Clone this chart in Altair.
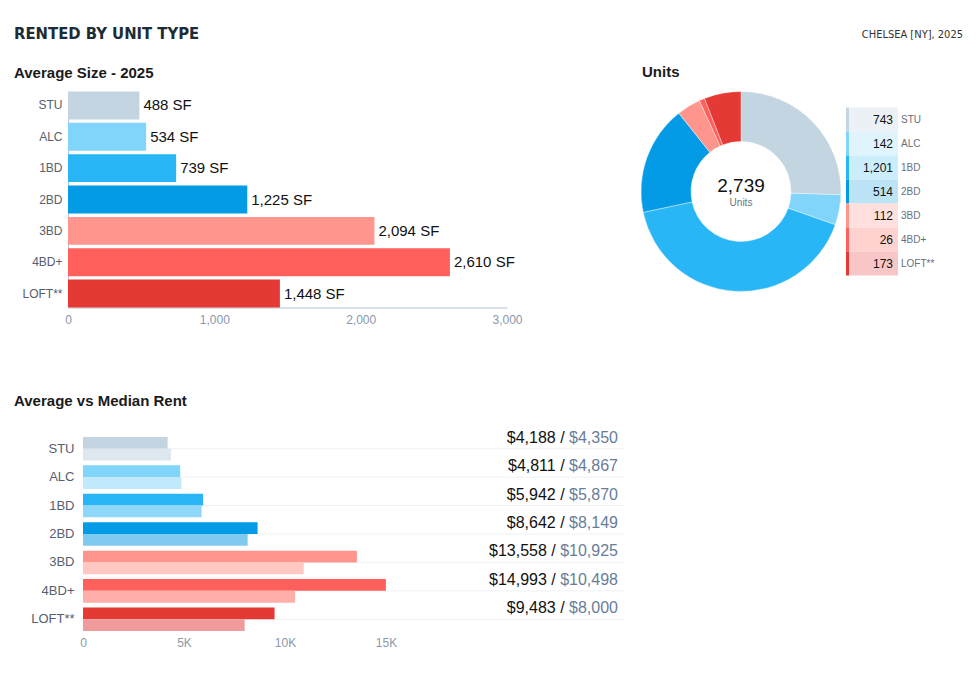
import altair as alt
import pandas as pd

# ---------------- data ----------------
units = ["STU", "ALC", "1BD", "2BD", "3BD", "4BD+", "LOFT**"]
avg_size = [488, 534, 739, 1225, 2094, 2610, 1448]
unit_count = [743, 142, 1201, 514, 112, 26, 173]
total_units = 2739
avg_rent = [4188, 4811, 5942, 8642, 13558, 14993, 9483]
median_rent = [4350, 4867, 5870, 8149, 10925, 10498, 8000]
size_ticks = [0, 1000, 2000, 3000]
rent_ticks = [0, 5000, 10000, 15000]
header_left = "RENTED BY UNIT TYPE"
header_right = "CHELSEA [NY], 2025"

# ---------------- styles ----------------
main_colors = ["#c3d5e0", "#81d4fa", "#29b6f6", "#039be5", "#ff958c", "#ff605b", "#e53935"]
light_colors = ["#dce7ee", "#c1e9fc", "#8fd7f8", "#80caf0", "#ffc8c3", "#ffaeaa", "#ef9b9b"]
cell_colors = ["#ebf1f5", "#dff4fd", "#cbeefd", "#bde3f6", "#ffe0de", "#ffd2d0", "#f8c6c6"]

FONT = "Liberation Sans"
COND = "'DejaVu Sans Condensed', 'Liberation Sans', sans-serif"
DARK = "#1b1b1b"
AXIS_LABEL = "#56606e"
TICK_LABEL = "#8a98aa"
SLATE = "#687d99"
LEFT_EXT = 54  # distance from plot left edge to page text margin

# ---------------- header ----------------
df_head = pd.DataFrame({"left": [header_left], "right": [header_right]})
HEAD_W, HEAD_H = 895, 29
head_l = alt.Chart(df_head).mark_text(
    align="left", baseline="alphabetic", font=COND, fontWeight="bold",
    fontSize=16.5, color="#1d2b36"
).encode(x=alt.value(-LEFT_EXT), y=alt.value(HEAD_H), text="left:N")
head_r = alt.Chart(df_head).mark_text(
    align="right", baseline="alphabetic", font=COND, fontSize=11, color="#333333"
).encode(x=alt.value(HEAD_W), y=alt.value(HEAD_H - 1.5), text="right:N")
header = alt.layer(head_l, head_r).properties(width=HEAD_W, height=HEAD_H)

# ---------------- average size ----------------
df_size = pd.DataFrame({
    "unit": units,
    "size": avg_size,
    "color": main_colors,
    "label": [f"{v:,} SF" for v in avg_size],
})
y1 = alt.Y(
    "unit:N", sort=units, title=None,
    scale=alt.Scale(paddingInner=0.11, paddingOuter=0),
    axis=alt.Axis(ticks=False, domain=True, domainColor="#b4c0cf", labelFont=FONT,
                  labelFontSize=12, labelColor=AXIS_LABEL, labelPadding=6),
)
x1 = alt.X(
    "size:Q", title=None,
    scale=alt.Scale(domain=[size_ticks[0], size_ticks[-1]], nice=False),
    axis=alt.Axis(values=size_ticks, format=",.0f", grid=False, ticks=False,
                  labelFlush=False, domainColor="#b4c0cf", labelFont=FONT,
                  labelFontSize=12, labelColor=TICK_LABEL, labelPadding=7),
)
bars1 = alt.Chart(df_size).mark_bar().encode(
    y=y1, x=x1, color=alt.Color("color:N", scale=None)
)
text1 = alt.Chart(df_size).mark_text(
    align="left", baseline="middle", dx=4, font=FONT, fontSize=15, color="#111111"
).encode(y=y1, x=x1, text="label:N")
c1 = alt.layer(bars1, text1).properties(
    width=439, height=216,
    title=alt.TitleParams("Average Size - 2025", anchor="start", frame="group",
                          dx=-LEFT_EXT, font=FONT, fontSize=15, fontWeight="bold",
                          color=DARK, offset=11),
)

# ---------------- units donut + table ----------------
df_units = pd.DataFrame({
    "idx": list(range(len(units))),
    "unit": units,
    "count": unit_count,
    "color": main_colors,
    "cell": cell_colors,
    "clabel": [f"{v:,}" for v in unit_count],
})
df_total = pd.DataFrame({"t": [f"{total_units:,}"], "s": ["Units"]})

arc = alt.Chart(df_units).mark_arc(
    innerRadius=50, outerRadius=100, stroke="white", strokeWidth=0.4
).encode(
    theta=alt.Theta("count:Q", stack=True),
    order=alt.Order("idx:Q"),
    color=alt.Color("color:N", scale=None),
    x=alt.value(99), y=alt.value(100),
)
center_num = alt.Chart(df_total).mark_text(
    align="center", baseline="middle", font=FONT, fontSize=19, color="#111111"
).encode(x=alt.value(99), y=alt.value(94), text="t:N")
center_lab = alt.Chart(df_total).mark_text(
    align="center", baseline="middle", font=FONT, fontSize=10, color="#6b7480"
).encode(x=alt.value(99), y=alt.value(111), text="s:N")

ytab = alt.Y("unit:N", sort=units, axis=None,
             scale=alt.Scale(range=[16, 184], paddingInner=0, paddingOuter=0))
cells = alt.Chart(df_units).mark_rect().encode(
    y=ytab, x=alt.value(207), x2=alt.value(256), color=alt.Color("cell:N", scale=None)
)
strip = alt.Chart(df_units).mark_rect().encode(
    y=ytab, x=alt.value(204), x2=alt.value(207), color=alt.Color("color:N", scale=None)
)
nums = alt.Chart(df_units).mark_text(
    align="right", baseline="middle", font=FONT, fontSize=12, color="#111111"
).encode(y=ytab, x=alt.value(251), text="clabel:N")
labs = alt.Chart(df_units).mark_text(
    align="left", baseline="middle", font=FONT, fontSize=10, color="#666f7c"
).encode(y=ytab, x=alt.value(259), text="unit:N")

c2 = alt.layer(arc, center_num, center_lab, cells, strip, nums, labs).properties(
    width=300, height=200,
    title=alt.TitleParams("Units", anchor="start", frame="group", font=FONT,
                          fontSize=15, fontWeight="bold", color=DARK, offset=11),
)

row1 = alt.hconcat(c1, c2, spacing=117)

# ---------------- average vs median rent ----------------
RENT_W, RENT_H = 557, 199
BAR_X0 = 15
rows = []
for i, u in enumerate(units):
    rows.append({"unit": u, "kind": "avg", "value": avg_rent[i], "color": main_colors[i]})
    rows.append({"unit": u, "kind": "med", "value": median_rent[i], "color": light_colors[i]})
df_rent = pd.DataFrame(rows)
df_lab = pd.DataFrame({
    "unit": units,
    "avg_label": [f"${v:,} /" for v in avg_rent],
    "med_label": [f"${v:,}" for v in median_rent],
})

y3 = alt.Y(
    "unit:N", sort=units, title=None,
    scale=alt.Scale(paddingInner=0.17, paddingOuter=0.085),
    axis=alt.Axis(ticks=False, domain=False, labelFont=FONT, labelFontSize=13,
                  labelColor=AXIS_LABEL, labelPadding=-6),
)
x3 = alt.X(
    "value:Q", title=None,
    scale=alt.Scale(domain=[0, 26830], nice=False, range=[BAR_X0, RENT_W]),
    axis=alt.Axis(values=rent_ticks, grid=False, ticks=False, domain=False,
                  labelFlush=False,
                  labelExpr="datum.value == 0 ? '0' : (datum.value / 1000) + 'K'",
                  labelFont=FONT, labelFontSize=12, labelColor=TICK_LABEL, labelPadding=4),
)
grid3 = alt.Chart(df_lab).mark_rule(color="#f0f1f3", strokeWidth=1).encode(
    y=alt.Y("unit:N", sort=units, bandPosition=0.5),
    x=alt.value(BAR_X0), x2=alt.value(RENT_W),
)
bars3 = alt.Chart(df_rent).mark_bar().encode(
    y=y3,
    yOffset=alt.YOffset("kind:N", sort=["avg", "med"],
                        scale=alt.Scale(paddingInner=0, paddingOuter=0)),
    x=x3,
    color=alt.Color("color:N", scale=None),
)
LAB_X = 550
med_txt = alt.Chart(df_lab).mark_text(
    align="right", baseline="alphabetic", dy=-6, font=FONT, fontSize=16, color=SLATE
).encode(y=alt.Y("unit:N", sort=units, bandPosition=0.5), x=alt.value(LAB_X),
         text="med_label:N")
avg_txt = alt.Chart(df_lab).transform_calculate(
    px=f"{LAB_X} - ((length(datum.med_label) - 1) * 8.896 + 4.448) - 4.448"
).mark_text(
    align="right", baseline="alphabetic", dy=-6, font=FONT, fontSize=16, color="#111111"
).encode(y=alt.Y("unit:N", sort=units, bandPosition=0.5),
         x=alt.X("px:Q", scale=None), text="avg_label:N")

c3 = alt.layer(grid3, bars3, med_txt, avg_txt).properties(
    width=RENT_W, height=RENT_H,
    title=alt.TitleParams("Average vs Median Rent", anchor="start", frame="group",
                          dx=-LEFT_EXT, font=FONT, fontSize=15, fontWeight="bold",
                          color=DARK, offset=21),
)

top = alt.vconcat(header, row1, spacing=21.5)
chart = alt.vconcat(top, c3, spacing=67.5).properties(
    padding={"left": 14, "top": 10, "right": 5, "bottom": 5},
    background="white",
).configure_view(stroke=None)

chart.save("out.html", embed_options={"renderer": "svg", "actions": False})
